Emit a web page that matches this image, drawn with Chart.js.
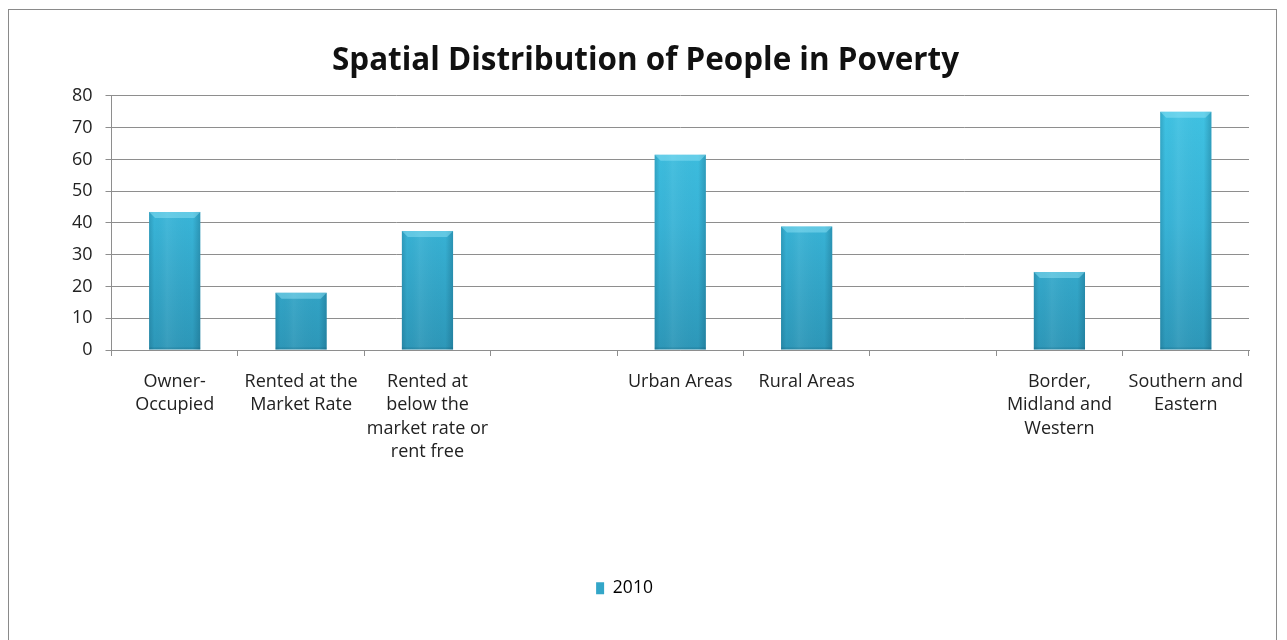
<!DOCTYPE html>
<html>
<head>
<meta charset="utf-8">
<script src="https://cdn.jsdelivr.net/npm/chart.js@4.4.1/dist/chart.umd.min.js"></script>
<style>
  html, body { margin: 0; padding: 0; background: #fff; overflow: hidden; }
  .frame {
    position: absolute; left: 8px; top: 9px; width: 1269px; height: 700px;
    border: 1px solid #8a8a8a; box-sizing: border-box;
  }
  .wrap { position: absolute; left: 0; top: 0; width: 1287px; height: 640px; }
</style>
</head>
<body>
<div class="frame"></div>
<div class="wrap"><canvas id="chart-poverty"></canvas></div>
<script>
const categories = [
    ['Owner-', 'Occupied'],
    ['Rented at the', 'Market Rate'],
    ['Rented at', 'below the', 'market rate or', 'rent free'],
    '',
    'Urban Areas',
    'Rural Areas',
    '',
    ['Border,', 'Midland and', 'Western'],
    ['Southern and', 'Eastern'],
];
const values2010 = [43.5, 18, 37.5, null, 61.5, 38.9, null, 24.6, 75];
const yTicks = [0, 10, 20, 30, 40, 50, 60, 70, 80];

const FONT = '"Open Sans", "DejaVu Sans", sans-serif';
const gridGrey = '#8e8e8e';

// vertical fill for the bars, lighter at the top
function barFill(context) {
    const { ctx, chartArea } = context.chart;
    if (!chartArea) return '#38b4d6';
    const g = ctx.createLinearGradient(0, chartArea.top, 0, chartArea.bottom);
    g.addColorStop(0, '#40c4e4');
    g.addColorStop(0.5, '#38b3d6');
    g.addColorStop(1, '#2d97b8');
    return g;
}

// rounded-edge shading and top bevel on each bar
const bevelPlugin = {
    id: 'bevel',
    afterDatasetsDraw(chart) {
        const { ctx } = chart;
        chart.getDatasetMeta(0).data.forEach((bar) => {
            const { x, y, base, width } = bar.getProps(['x', 'y', 'base', 'width'], true);
            if (!isFinite(y) || base - y < 1) return;
            const l = x - width / 2;
            const r = x + width / 2;
            ctx.save();
            const h = ctx.createLinearGradient(l, 0, r, 0);
            h.addColorStop(0, 'rgba(10,70,95,0.22)');
            h.addColorStop(0.1, 'rgba(10,70,95,0.0)');
            h.addColorStop(0.35, 'rgba(255,255,255,0.06)');
            h.addColorStop(0.85, 'rgba(10,70,95,0.0)');
            h.addColorStop(1, 'rgba(10,70,95,0.28)');
            ctx.fillStyle = h;
            ctx.fillRect(l, y, width, base - y);

            const d = Math.min(6, (base - y) / 3);
            ctx.beginPath();
            ctx.moveTo(l, y);
            ctx.lineTo(r, y);
            ctx.lineTo(r - d, y + d);
            ctx.lineTo(l + d, y + d);
            ctx.closePath();
            ctx.fillStyle = 'rgba(150,230,248,0.45)';
            ctx.fill();

            ctx.fillStyle = 'rgba(10,60,80,0.15)';
            ctx.fillRect(l, base - 2, width, 2);
            ctx.restore();
        });
    },
};

// the title sits centred on the whole frame, not on the padded box
const titleCentre = {
    id: 'titleCentre',
    afterLayout(chart) {
        if (chart.titleBlock) {
            chart.titleBlock.left += 21;
            chart.titleBlock.right += 21;
        }
    },
};

new Chart(document.getElementById('chart-poverty'), {
    type: 'bar',
    data: {
        labels: categories,
        datasets: [
            {
                label: '2010',
                data: values2010,
                backgroundColor: barFill,
                borderWidth: 0,
                barPercentage: 0.405,
                categoryPercentage: 1,
            },
        ],
    },
    options: {
        responsive: true,
        maintainAspectRatio: false,
        animation: false,
        layout: { padding: { left: 0, right: 38, top: 0, bottom: 33 } },
        plugins: {
            title: {
                display: true,
                text: 'Spatial Distribution of People in Poverty',
                color: '#111',
                font: { family: FONT, size: 31.4, weight: 'bold' },
                padding: { top: 42, bottom: 16.3 },
            },
            legend: {
                position: 'bottom',
                labels: {
                    boxWidth: 8,
                    boxHeight: 12,
                    color: '#222',
                    font: { family: FONT, size: 17.5 },
                    generateLabels: () => [{
                        text: '2010',
                        fillStyle: '#33a6c8',
                        strokeStyle: '#33a6c8',
                        lineWidth: 0,
                        datasetIndex: 0,
                    }],
                },
            },
            tooltip: { enabled: false },
        },
        scales: {
            x: {
                offset: true,
                grid: {
                    offset: true,
                    drawOnChartArea: false,
                    drawTicks: true,
                    tickLength: 6,
                    color: gridGrey,
                },
                border: { color: gridGrey },
                ticks: {
                    color: '#222',
                    maxRotation: 0,
                    autoSkip: false,
                    padding: 14,
                    font: { family: FONT, size: 18, lineHeight: 1.3 },
                },
                afterFit: (scale) => { scale.height = 219.5; },
            },
            y: {
                min: 0,
                max: 80,
                afterBuildTicks: (scale) => { scale.ticks = yTicks.map((v) => ({ value: v })); },
                grid: { color: gridGrey, tickLength: 6 },
                border: { color: gridGrey },
                ticks: {
                    color: '#222',
                    padding: 13,
                    font: { family: FONT, size: 18 },
                },
                afterFit: (scale) => { scale.width = 111.5; },
            },
        },
    },
    plugins: [bevelPlugin, titleCentre],
});
</script>
</body>
</html>
